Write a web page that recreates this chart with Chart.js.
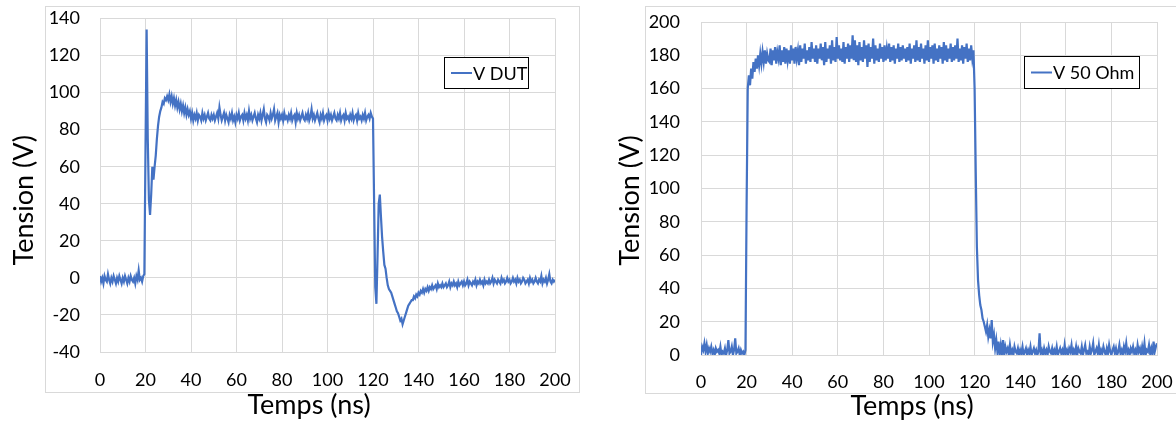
<!DOCTYPE html>
<html>
<head>
<meta charset="utf-8">
<script src="https://cdn.jsdelivr.net/npm/chart.js@4.4.1/dist/chart.umd.min.js"></script>
<style>
  html, body { margin: 0; padding: 0; background: #ffffff; }
  #wrap { position: relative; width: 1176px; height: 423px; overflow: hidden; }
  .frame { position: absolute; border: 1px solid #d9d9d9; box-sizing: border-box; }
  canvas { position: absolute; top: 0; }
</style>
</head>
<body>
<div id="wrap">
  <div class="frame" style="left:45px;top:6px;width:535px;height:387px;"></div>
  <div class="frame" style="left:645px;top:6px;width:532px;height:388px;"></div>
  <canvas id="c1" width="588" height="423" style="left:0px;"></canvas>
  <canvas id="c2" width="588" height="423" style="left:588px;"></canvas>
</div>
<script>
// ---------- DATA ----------
const SERIES_1_LABEL = 'V DUT';
const SERIES_2_LABEL = 'V 50 Ohm';
const X_TITLE = 'Temps (ns)';
const Y_TITLE = 'Tension (V)';
const TIME_START_NS = 0;
const TIME_STEP_NS = 0.5;
const X_TICKS = [0, 20, 40, 60, 80, 100, 120, 140, 160, 180, 200];
const Y1_TICKS = [-40, -20, 0, 20, 40, 60, 80, 100, 120, 140];
const Y2_TICKS = [0, 20, 40, 60, 80, 100, 120, 140, 160, 180, 200];

// V DUT, one value every 0.5 ns (each row = 10 ns)
const vDut = [
  1, -2, 0, -3, 1, -1, -2, 2, -1, -3, 0, -2, 1, -1, -3, 0, -2, 1, -1, -3,
  0, -2, 1, -1, -3, 0, -2, 1, -1, -2, 0, -3, 1, -1, 4, -1, 0, -2, 1, 2,
  70, 134, 75, 42, 34, 45, 60, 53, 60, 66, 75, 82, 87, 90, 92, 95, 94, 97, 96, 98,
  96, 99, 95, 98, 94, 97, 93, 96, 92, 95, 91, 94, 90, 93, 89, 92, 88, 91, 88, 90,
  86, 89, 85, 88, 86, 89, 85, 88, 87, 85, 89, 86, 88, 85, 87, 89, 86, 85, 88, 86,
  88, 85, 87, 89, 86, 92, 88, 85, 87, 89, 85, 88, 86, 84, 88, 86, 89, 85, 87, 84,
  88, 86, 89, 85, 87, 88, 85, 89, 86, 88, 85, 90, 86, 88, 85, 87, 89, 86, 84, 88,
  86, 89, 85, 88, 91, 86, 84, 88, 87, 85, 89, 86, 88, 91, 85, 87, 89, 84, 88, 86,
  88, 85, 89, 86, 87, 85, 88, 86, 89, 85, 87, 88, 84, 89, 86, 88, 85, 87, 89, 86,
  85, 88, 86, 89, 85, 87, 91, 86, 88, 85, 87, 89, 86, 84, 88, 86, 89, 85, 87, 88,
  85, 89, 86, 88, 85, 87, 89, 86, 85, 88, 86, 89, 85, 87, 88, 85, 89, 86, 87, 85,
  88, 86, 89, 85, 87, 88, 85, 89, 86, 87, 85, 88, 86, 89, 85, 87, 88, 86, 89, 87,
  86, 40, -5, -14, 12, 40, 45, 33, 22, 14, 7, 5, 0, -4, -6, -7, -8, -10, -12, -14,
  -16, -18, -19, -21, -23, -22, -25, -23, -21, -19, -17, -15, -14, -13, -12, -12, -10, -11, -9, -10,
  -8, -9, -7, -8, -6, -8, -6, -7, -5, -7, -5, -6, -4, -6, -5, -4, -6, -3, -5, -4,
  -5, -3, -5, -4, -3, -5, -4, -2, -5, -3, -4, -2, -4, -3, -5, -2, -4, -3, -2, -4,
  -2, -4, -3, -1, -4, -2, -3, -4, -2, -3, -1, -4, -2, -3, -1, -3, -2, -4, -1, -3,
  -2, -3, -1, -3, -2, 0, -3, -1, -2, -3, -1, -2, -3, 0, -2, -1, -3, -2, 0, -2,
  -1, -3, -2, 0, -2, -1, -3, 0, -2, -1, -3, -2, 0, -1, -3, -2, -1, -3, 0, -2,
  -1, -3, -2, 0, -2, -3, -1, -2, 1, -3, -1, -2, 0, -3, -1, 2, -2, -3, -1, -2,
  -1
];

// V 50 Ohm, one value every 0.5 ns (each row = 10 ns)
const v50Ohm = [
  0, 5, 3, 7, 2, 6, 1, 4, 2, 5, 1, 3, 0, 4, 2, 3, 1, 5, 0, 2,
  1, 4, 0, 3, 9, 1, 2, 5, 0, 3, 10, 1, 2, 4, 0, 3, 1, 2, 0, 3,
  90, 160, 168, 162, 172, 166, 176, 170, 178, 172, 180, 174, 181, 175, 182, 176, 183, 175, 181, 177,
  176, 184, 174, 183, 177, 185, 175, 182, 178, 186, 174, 183, 176, 185, 175, 184, 177, 183, 175, 186,
  177, 184, 175, 185, 178, 183, 174, 186, 176, 184, 178, 187, 175, 183, 177, 185, 176, 188, 178, 184,
  176, 186, 175, 184, 178, 187, 177, 185, 174, 188, 176, 184, 178, 186, 175, 189, 177, 185, 176, 191,
  178, 186, 177, 184, 176, 188, 175, 185, 178, 187, 176, 186, 178, 192, 177, 189, 176, 186, 174, 188,
  177, 185, 176, 189, 178, 186, 173, 187, 176, 185, 178, 190, 175, 186, 177, 184, 176, 187, 178, 185,
  176, 186, 177, 184, 178, 187, 176, 185, 177, 186, 175, 184, 178, 187, 176, 185, 177, 186, 178, 184,
  176, 185, 177, 187, 175, 184, 178, 186, 176, 189, 177, 185, 176, 187, 178, 184, 175, 186, 177, 189,
  176, 185, 178, 186, 175, 187, 177, 184, 176, 186, 178, 185, 175, 188, 177, 186, 176, 184, 178, 187,
  176, 185, 177, 186, 178, 190, 176, 184, 177, 186, 175, 185, 178, 187, 176, 184, 177, 186, 178, 183,
  160, 110, 65, 45, 36, 30, 27, 22, 20, 17, 14, 18, 11, 15, 10, 21, 8, 12, 4, 9,
  2, 8, 0, 6, 1, 9, 0, 5, 2, 4, 0, 6, 1, 3, 0, 5, 2, 1, 4, 0,
  3, 1, 5, 0, 2, 4, 0, 3, 1, 5, 0, 2, 4, 1, 3, 0, 2, 13, 1, 3,
  0, 4, 1, 3, 0, 5, 2, 1, 4, 0, 3, 1, 5, 0, 2, 4, 1, 3, 0, 6,
  1, 3, 0, 4, 2, 6, 0, 3, 1, 5, 0, 4, 2, 1, 5, 0, 3, 6, 1, 2,
  0, 5, 1, 3, 7, 0, 2, 4, 1, 6, 0, 3, 1, 5, 2, 0, 4, 1, 6, 2,
  0, 3, 5, 1, 4, 0, 2, 6, 1, 3, 0, 5, 2, 7, 1, 3, 0, 4, 2, 5,
  1, 3, 0, 6, 2, 4, 0, 5, 1, 7, 0, 3, 2, 6, 1, 4, 0, 8, 2, 5,
  7
];

// ---------- STYLE ----------
const LINE_COLOR = '#4472C4';
const GRID_COLOR = '#d9d9d9';
const FONT_FAMILY = 'Lato, Carlito, "Open Sans", sans-serif';
const TICK_FONT_SIZE = 18;
const TITLE_FONT_SIZE = 27;

// Legend drawn as an Excel-style framed box inside the plot
const boxLegend = {
  id: 'boxLegend',
  afterDraw(chart, args, o) {
    const ctx = chart.ctx;
    const ds = chart.data.datasets[0];
    ctx.save();
    ctx.fillStyle = '#ffffff';
    ctx.fillRect(o.x, o.y, o.w, o.h);
    ctx.strokeStyle = '#000000';
    ctx.lineWidth = 1;
    ctx.strokeRect(o.x + 0.5, o.y + 0.5, o.w, o.h);
    const cy = o.y + o.h / 2 + 0.5;
    ctx.strokeStyle = ds.borderColor;
    ctx.lineWidth = 2;
    ctx.beginPath();
    ctx.moveTo(o.x + 7, cy);
    ctx.lineTo(o.x + 28, cy);
    ctx.stroke();
    ctx.fillStyle = '#000000';
    ctx.font = o.fontSize + 'px ' + FONT_FAMILY;
    ctx.textBaseline = 'middle';
    ctx.textAlign = 'left';
    ctx.fillText(ds.label, o.x + 29, cy + 1);
    ctx.restore();
  }
};

// Axis titles, centred like Excel (on the chart frame rather than the plot area)
const axisTitles = {
  id: 'axisTitles',
  afterDraw(chart, args, o) {
    const ctx = chart.ctx;
    const ca = chart.chartArea;
    ctx.save();
    ctx.fillStyle = '#000000';
    ctx.font = TITLE_FONT_SIZE + 'px ' + FONT_FAMILY;
    ctx.textAlign = 'center';
    ctx.textBaseline = 'middle';
    ctx.fillText(o.xText, (ca.left + ca.right) / 2 + o.xDx, o.xY);
    ctx.translate(o.yX, (ca.top + ca.bottom) / 2 + o.yDy);
    ctx.rotate(-Math.PI / 2);
    ctx.fillText(o.yText, 0, 0);
    ctx.restore();
  }
};

function makeChart(id, label, values, yTicks, geo) {
  const pts = values.map((v, i) => ({ x: TIME_START_NS + i * TIME_STEP_NS, y: v }));
  return new Chart(document.getElementById(id), {
    type: 'line',
    data: { datasets: [{
      label: label,
      data: pts,
      borderColor: LINE_COLOR,
      backgroundColor: LINE_COLOR,
      borderWidth: 2.2,
      pointRadius: 0,
      tension: 0,
      fill: false
    }]},
    options: {
      responsive: false,
      animation: false,
      events: [],
      layout: { padding: { left: 0, top: geo.padTop, right: geo.padRight, bottom: 0 } },
      plugins: {
        legend: { display: false },
        tooltip: { enabled: false },
        boxLegend: geo.legend,
        axisTitles: geo.titles
      },
      scales: {
        x: {
          type: 'linear',
          min: X_TICKS[0],
          max: X_TICKS[X_TICKS.length - 1],
          afterBuildTicks: s => { s.ticks = X_TICKS.map(v => ({ value: v })); },
          afterFit: s => { s.height = geo.xHeight; },
          grid: { color: GRID_COLOR, drawTicks: true, tickLength: geo.xTickPad,
                  tickColor: 'rgba(0,0,0,0)', lineWidth: 1 },
          border: { color: GRID_COLOR },
          ticks: { color: '#000000', padding: 0, maxRotation: 0, autoSkip: false,
                   font: { family: FONT_FAMILY, size: TICK_FONT_SIZE } },
          title: { display: false, text: X_TITLE }
        },
        y: {
          type: 'linear',
          min: yTicks[0],
          max: yTicks[yTicks.length - 1],
          afterBuildTicks: s => { s.ticks = yTicks.map(v => ({ value: v })); },
          afterFit: s => { s.width = geo.yWidth; },
          grid: { color: GRID_COLOR, drawTicks: true, tickLength: geo.yTickPad,
                  tickColor: 'rgba(0,0,0,0)', lineWidth: 1 },
          border: { color: GRID_COLOR },
          ticks: { color: '#000000', padding: 0, autoSkip: false,
                   font: { family: FONT_FAMILY, size: TICK_FONT_SIZE } },
          title: { display: false, text: Y_TITLE }
        }
      }
    },
    plugins: [boxLegend, axisTitles]
  });
}

function draw() {
  makeChart('c1', SERIES_1_LABEL, vDut, Y1_TICKS, {
    padTop: 18.5, padRight: 33, xHeight: 71, yWidth: 100,
    xTickPad: 17, yTickPad: 20,
    titles: { xText: X_TITLE, xDx: -18.5, xY: 405, yText: Y_TITLE, yX: 24, yDy: 15 },
    legend: { x: 444, y: 57, w: 84, h: 31, fontSize: 18 }
  });
  makeChart('c2', SERIES_2_LABEL, v50Ohm, Y2_TICKS, {
    padTop: 22, padRight: 19, xHeight: 68, yWidth: 113,
    xTickPad: 16, yTickPad: 21,
    titles: { xText: X_TITLE, xDx: -17, xY: 406, yText: Y_TITLE, yX: 42, yDy: 12 },
    legend: { x: 436, y: 56, w: 115, h: 32, fontSize: 18 }
  });
}

if (document.fonts && document.fonts.load) {
  Promise.all([document.fonts.load('18px Lato'), document.fonts.load('27px Lato')])
    .then(draw, draw);
} else {
  draw();
}
</script>
</body>
</html>
